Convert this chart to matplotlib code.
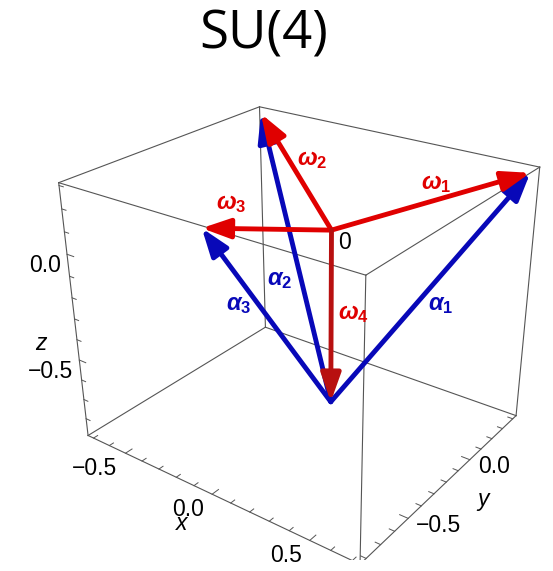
import numpy as np
import matplotlib
matplotlib.use("Agg")
import matplotlib.pyplot as plt
from matplotlib.patches import FancyArrowPatch
from matplotlib.transforms import offset_copy
from mpl_toolkits.mplot3d import proj3d

plt.rcParams['mathtext.fontset'] = 'custom'
plt.rcParams['mathtext.it'] = 'Liberation Sans:bold:italic'
plt.rcParams['mathtext.rm'] = 'Liberation Sans:bold'
plt.rcParams['mathtext.bf'] = 'Liberation Sans:bold'

# weights of the SU(4) fundamental rep (tetrahedron vertices, |w|^2 = 3/4)
w_x = [0.7071, -0.7071, 0.0, 0.0]
w_y = [0.4082, 0.4082, -0.8165, 0.0]
w_z = [0.2887, 0.2887, 0.2887, -0.8660]
w_labels = [r'$\omega_1$', r'$\omega_2$', r'$\omega_3$', r'$\omega_4$']

# roots alpha_i = w_i - w_4, drawn from the tip of w_4
a_labels = [r'$\alpha_1$', r'$\alpha_2$', r'$\alpha_3$']

x_lim = (-0.735, 0.735)
y_lim = (-0.841, 0.433)
z_lim = (-0.889, 0.312)
x_ticks = [-0.5, 0.0, 0.5]
y_ticks = [-0.5, 0.0]
z_ticks = [0.0, -0.5]

RED = '#e00000'
RED_DARK = '#b81010'
BLUE = '#0808b8'
EDGE = '#555555'
TICKFONT = 'Liberation Sans'


class Arrow3D(FancyArrowPatch):
    def __init__(self, xs, ys, zs, *args, **kwargs):
        super().__init__((0, 0), (0, 0), *args, **kwargs)
        self._verts3d = xs, ys, zs

    def do_3d_projection(self, renderer=None):
        xs3d, ys3d, zs3d = self._verts3d
        xs, ys, zs = proj3d.proj_transform(xs3d, ys3d, zs3d, self.axes.M)
        self.set_positions((xs[0], ys[0]), (xs[1], ys[1]))
        return np.min(zs)


def arrow(ax, p0, p1, color):
    a = Arrow3D([p0[0], p1[0]], [p0[1], p1[1]], [p0[2], p1[2]],
                arrowstyle='-|>,head_length=17,head_width=6',
                mutation_scale=1, lw=3.5, color=color,
                shrinkA=0, shrinkB=0, zorder=3)
    ax.add_artist(a)


def label(ax, p, s, dx, dy, **kw):
    # dx, dy in pixels on screen
    tr = offset_copy(ax.transData, fig=ax.figure, x=dx / 1.389, y=dy / 1.389,
                     units='points')
    ax.text(p[0], p[1], p[2], s, transform=tr, zorder=5, **kw)


def along(p0, p1, f):
    return tuple(np.array(p0) + f * (np.array(p1) - np.array(p0)))


fig = plt.figure(figsize=(5.53, 5.71), dpi=100)
ax = fig.add_axes([0.037, 0.02, 1.0, 0.86], projection='3d')
ax.computed_zorder = False
zoom = 1.055
ax.set_box_aspect((x_lim[1] - x_lim[0], y_lim[1] - y_lim[0],
                   z_lim[1] - z_lim[0]), zoom=zoom)
ax.set_proj_type('persp', focal_length=0.39 * zoom)
ax.view_init(elev=27, azim=-53, roll=0.5)
ax.set_xlim(x_lim)
ax.set_ylim(y_lim)
ax.set_zlim(z_lim)
ax.set_axis_off()

# bounding box
x0, x1 = x_lim
y0, y1 = y_lim
z0, z1 = z_lim
for ya in (y0, y1):
    for za in (z0, z1):
        ax.plot([x0, x1], [ya, ya], [za, za], color=EDGE, lw=0.8, zorder=1)
for xa in (x0, x1):
    for za in (z0, z1):
        ax.plot([xa, xa], [y0, y1], [za, za], color=EDGE, lw=0.8, zorder=1)
for xa in (x0, x1):
    for ya in (y0, y1):
        ax.plot([xa, xa], [ya, ya], [z0, z1], color=EDGE, lw=0.8, zorder=1)

# tick marks (0.1 minor, 0.5 major)
for t in np.arange(-0.7, 0.75, 0.1):
    ln = 0.04 if abs(t * 2 - round(t * 2)) < 1e-6 else 0.025
    ax.plot([t, t], [y0, y0 + ln], [z0, z0], color=EDGE, lw=0.7, zorder=1)
for t in np.arange(-0.8, 0.45, 0.1):
    ln = 0.04 if abs(t * 2 - round(t * 2)) < 1e-6 else 0.025
    ax.plot([x1, x1 - ln], [t, t], [z0, z0], color=EDGE, lw=0.7, zorder=1)
for t in np.arange(-0.8, 0.35, 0.1):
    ln = 0.04 if abs(t * 2 - round(t * 2)) < 1e-6 else 0.025
    ax.plot([x0, x0 + ln], [y0, y0], [t, t], color=EDGE, lw=0.7, zorder=1)

# tick labels
for t in x_ticks:
    label(ax, (t, y0, z0), f'{t:.1f}'.replace('-', '\u2212'), -8, -15,
          ha='right', va='center', fontsize=16.5, family=TICKFONT)
for t in y_ticks:
    label(ax, (x1, t, z0), f'{t:.1f}'.replace('-', '\u2212'), 8, -7,
          ha='left', va='center', fontsize=16.5, family=TICKFONT)
for t in z_ticks:
    label(ax, (x0, y0, t), f'{t:.1f}'.replace('-', '\u2212'), -6, -11,
          ha='right', va='center', fontsize=16.5, family=TICKFONT)
label(ax, (0.0, y0, z0), 'x', -30, -29, ha='center', va='center',
      fontsize=16.5, family=TICKFONT, style='italic')
label(ax, (x1, -0.2, z0), 'y', 37, -17, ha='center', va='center',
      fontsize=16.5, family=TICKFONT, style='italic')
label(ax, (x0, y0, -0.42), 'z', -37, 0, ha='center', va='center',
      fontsize=16.5, family=TICKFONT, style='italic')

origin = (0.0, 0.0, 0.0)
tips = list(zip(w_x, w_y, w_z))
base = tips[3]

# roots from w4
for i in range(3):
    arrow(ax, base, tips[i], BLUE)
# weights from origin
for i in range(4):
    arrow(ax, origin, tips[i], RED_DARK if i == 3 else RED)

# labels
lab_kw = dict(ha='center', va='center', fontsize=17)
label(ax, along(origin, tips[0], 0.52), w_labels[0], 4, 18, color=RED, **lab_kw)
label(ax, along(origin, tips[1], 0.5), w_labels[1], 18, 10, color=RED, **lab_kw)
label(ax, along(origin, tips[2], 0.8), w_labels[2], 0, 26, color=RED, **lab_kw)
label(ax, along(origin, tips[3], 0.46), w_labels[3], 22, 0, color=RED, **lab_kw)
for i, (f, dx, dy) in enumerate([(0.46, 24, 0), (0.42, -21, 0), (0.62, -20, 0)]):
    label(ax, along(base, tips[i], f), a_labels[i], dx, dy, color=BLUE,
          **lab_kw)
label(ax, origin, '0', 13, -12, ha='center', va='center', fontsize=16.5,
      family=TICKFONT)

fig.text(264 / 553, 1 - 35 / 571, 'SU(4)', ha='center', va='center',
         fontsize=38, family='Open Sans')

fig.savefig('out.png', dpi=100)
